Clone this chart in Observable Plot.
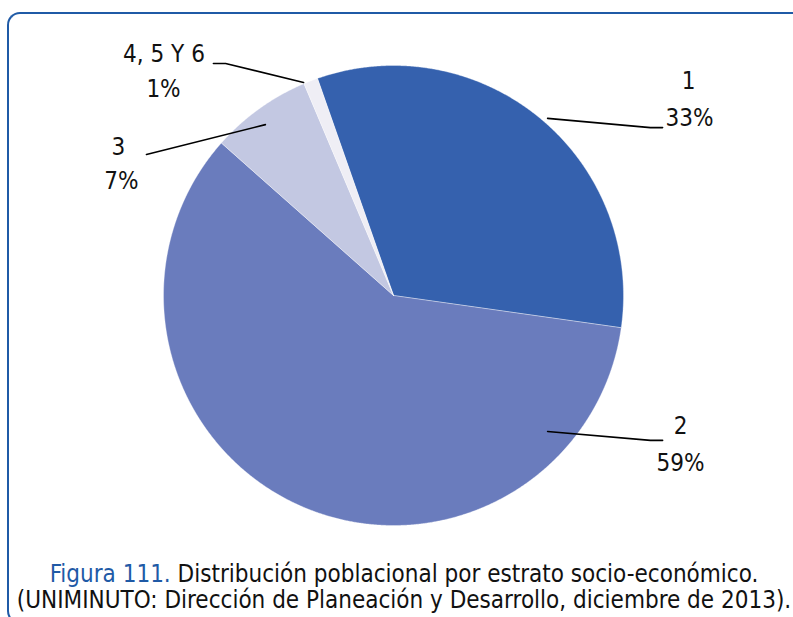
<!DOCTYPE html>
<html>
<head>
<meta charset="utf-8">
<script src="https://cdn.jsdelivr.net/npm/d3@7"></script>
<script src="https://cdn.jsdelivr.net/npm/@observablehq/plot@0.6"></script>
<style>
  html, body { margin: 0; padding: 0; background: #fff; }
  #wrap { position: relative; width: 793px; height: 617px; overflow: hidden; font-family: "DejaVu Sans Condensed", "DejaVu Sans", sans-serif; }
  #frame { position: absolute; left: 7px; top: 12px; width: 820px; height: 612px; border-top: 2px solid #1f5aa6; border-left: 2px solid #1f5aa6; border-bottom: 2px solid #1f5aa6; border-radius: 13px; box-sizing: border-box; }
  #chart { position: absolute; left: 0; top: 0; }
  #caption { position: absolute; left: 0; top: 561px; width: 808px; text-align: center; font-size: 24px; line-height: 26px; color: #111; white-space: nowrap; }
  #caption .fig { color: #1f5aa6; }
</style>
</head>
<body>
<div id="wrap">
  <div id="frame"></div>
  <div id="chart"></div>
  <div id="caption"><span class="fig">Figura 111.</span> Distribución poblacional por estrato socio-económico.<br>(UNIMINUTO: Dirección de Planeación y Desarrollo, diciembre de 2013).</div>
</div>
<script>
// ---- data ----
const categories = ["1", "2", "3", "4, 5 Y 6"];
const values = [32.6, 59.3, 7.1, 1.0];

// ---- style ----
const colors = ["#3561ae", "#6a7cbd", "#c3c8e2", "#efeef5"];
const startDeg = -19.3; // first slice angle (clockwise from 12 o'clock)

// ---- label layout (pie units: centre = 0,0, radius = 1, y up) ----
const labelPos = [[1.283, 0.900], [1.248, -0.600], [-1.196, 0.613], [-0.998, 1.017]];
const pctPos   = [[1.287, 0.739], [1.248, -0.761], [-1.183, 0.465], [-1.000, 0.861]];
const leaders = [
  [[0.670, 0.770], [1.117, 0.730], [1.170, 0.730]],
  [[0.670, -0.591], [1.117, -0.630], [1.170, -0.630]],
  [[-0.557, 0.743], [-1.074, 0.613]],
  [[-0.391, 0.926], [-0.730, 1.009], [-0.783, 1.009]]
];

const W = 793, H = 555, CX = 393, CY = 295, R = 230;

const rows = categories.map((c, i) => ({cat: c, value: values[i], color: colors[i]}));
const start = startDeg * Math.PI / 180;
const arcs = d3.pie().sort(null).value(d => d.value).startAngle(start).endAngle(start + 2 * Math.PI)(rows);

const slicePts = [];
arcs.forEach(a => {
  const n = Math.max(2, Math.ceil((a.endAngle - a.startAngle) / (0.25 * Math.PI / 180)));
  slicePts.push({cat: a.data.cat, color: a.data.color, x: 0, y: 0});
  for (let k = 0; k <= n; k++) {
    const t = a.startAngle + (a.endAngle - a.startAngle) * k / n;
    slicePts.push({cat: a.data.cat, color: a.data.color, x: Math.sin(t), y: Math.cos(t)});
  }
  slicePts.push({cat: a.data.cat, color: a.data.color, x: 0, y: 0});
});

const leaderPts = leaders.flatMap((l, i) => l.map(p => ({id: i, x: p[0], y: p[1]})));
const catLabels = rows.map((r, i) => ({text: r.cat, x: labelPos[i][0], y: labelPos[i][1]}));
const pctLabels = rows.map((r, i) => ({text: Math.round(r.value) + "%", x: pctPos[i][0], y: pctPos[i][1]}));

const font = "DejaVu Sans Condensed, DejaVu Sans, sans-serif";
const plot = Plot.plot({
  width: W, height: H,
  marginTop: 0, marginRight: 0, marginBottom: 0, marginLeft: 0,
  x: {domain: [-CX / R, (W - CX) / R], axis: null},
  y: {domain: [(CY - H) / R, CY / R], axis: null},
  style: {fontFamily: font, background: "transparent", overflow: "visible"},
  marks: [
    Plot.line(slicePts, {x: "x", y: "y", z: "cat", fill: "color", stroke: "#ffffff", strokeWidth: 0.6, strokeOpacity: 0.6, curve: "linear"}),
    Plot.line(leaderPts, {x: "x", y: "y", z: "id", stroke: "#000", strokeWidth: 1.6, curve: "linear"}),
    Plot.text(catLabels, {x: "x", y: "y", text: "text", fontSize: 24, fill: "#111", textAnchor: "middle", lineAnchor: "bottom"}),
    Plot.text(pctLabels, {x: "x", y: "y", text: "text", fontSize: 24, fill: "#111", textAnchor: "middle", lineAnchor: "bottom"})
  ]
});
document.getElementById("chart").appendChild(plot);
</script>
</body>
</html>
